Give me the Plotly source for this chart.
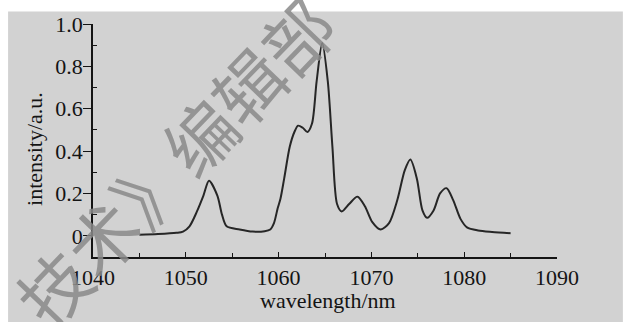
import plotly.graph_objects as go

# wavelength (nm) and normalized intensity
wavelength = [1045.0, 1047.0, 1049.0, 1049.7, 1050.4, 1051.2, 1051.9, 1052.5, 1053.4, 1053.9,
              1054.4, 1055.8, 1057.2, 1058.5, 1059.1, 1059.5, 1059.9, 1060.2, 1060.6, 1061.2,
              1061.7, 1062.1, 1062.6, 1063.1, 1063.6, 1064.1, 1064.7, 1065.3, 1065.8, 1066.3,
              1066.8, 1067.6, 1068.5, 1069.3, 1070.1, 1071.0, 1071.9, 1072.8, 1073.6, 1074.2,
              1074.9, 1075.5, 1076.0, 1076.7, 1077.4, 1078.1, 1078.8, 1079.6, 1080.3, 1081.5,
              1083.0, 1085.0]
intensity = [0.005, 0.008, 0.014, 0.02, 0.045, 0.115, 0.19, 0.26, 0.19, 0.10,
             0.045, 0.03, 0.02, 0.022, 0.03, 0.06, 0.13, 0.175, 0.27, 0.42,
             0.49, 0.52, 0.51, 0.49, 0.53, 0.73, 0.91, 0.73, 0.42, 0.15,
             0.115, 0.15, 0.185, 0.14, 0.065, 0.03, 0.06, 0.17, 0.31, 0.36,
             0.27, 0.12, 0.085, 0.12, 0.20, 0.225, 0.17, 0.08, 0.04, 0.025,
             0.018, 0.012]

x_ticks = [1040, 1050, 1060, 1070, 1080, 1090]
y_ticks = [0, 0.2, 0.4, 0.6, 0.8, 1.0]
y_tick_labels = ["0", "0.2", "0.4", "0.6", "0.8", "1.0"]

x_title = "wavelength/nm"
y_title = "intensity/a.u."
watermark = "技术》编辑部"

INK = "#141414"
PAPER = "#d2d2d2"
FONT = "Liberation Serif"

fig = go.Figure()
fig.add_trace(go.Scatter(
    x=wavelength, y=intensity, mode="lines",
    line=dict(color="#262626", width=2, shape="spline", smoothing=0.8),
    hoverinfo="skip", showlegend=False,
))

fig.update_layout(
    width=634, height=322,
    margin=dict(l=93, r=77, t=18, b=65),
    paper_bgcolor="white",
    plot_bgcolor="rgba(0,0,0,0)",
    font=dict(family=FONT, size=22, color=INK),
    showlegend=False,
    xaxis=dict(
        range=[1040, 1090], tickvals=x_ticks,
        showline=True, linecolor=INK, linewidth=1.6,
        ticks="inside", ticklen=5, tickwidth=1.4, tickcolor=INK,
        minor=dict(ticks="inside", tickmode="linear", tick0=1045, dtick=10, ticklen=4, tickwidth=1.4, tickcolor=INK),
        showgrid=False, zeroline=False,
        tickfont=dict(family=FONT, size=22, color=INK),
    ),
    yaxis=dict(
        range=[-0.1, 1.0], tickvals=y_ticks, ticktext=y_tick_labels,
        showline=True, linecolor=INK, linewidth=1.6,
        ticks="outside", ticklen=8, tickwidth=1.4, tickcolor=INK,
        ticklabelstandoff=-4,
        minor=dict(ticks="inside", tickmode="linear", tick0=0.1, dtick=0.2, ticklen=4, tickwidth=1.4, tickcolor=INK),
        showgrid=False, zeroline=False,
        tickfont=dict(family=FONT, size=22, color=INK),
    ),
    shapes=[dict(type="rect", xref="paper", yref="paper", layer="below",
                 x0=-0.183, x1=1.142, y0=-0.30, y1=1.054,
                 fillcolor=PAPER, line=dict(width=0))],
)

fig.add_annotation(text=x_title, xref="paper", yref="paper", x=0.506, y=-0.188,
                   showarrow=False, xanchor="center", yanchor="middle",
                   font=dict(family=FONT, size=22, color=INK))
fig.add_annotation(text=y_title, xref="paper", yref="paper", x=-0.125, y=0.464,
                   showarrow=False, xanchor="center", yanchor="middle", textangle=-90,
                   font=dict(family=FONT, size=22, color=INK))

fig.add_annotation(text=watermark, xref="paper", yref="paper", x=0.1746, y=0.414,
                   showarrow=False, xanchor="center", yanchor="middle", textangle=-46,
                   opacity=0.85,
                   font=dict(family="Noto Sans CJK SC", size=70, color="#8a8a8a"))

fig.write_html("out.html")
